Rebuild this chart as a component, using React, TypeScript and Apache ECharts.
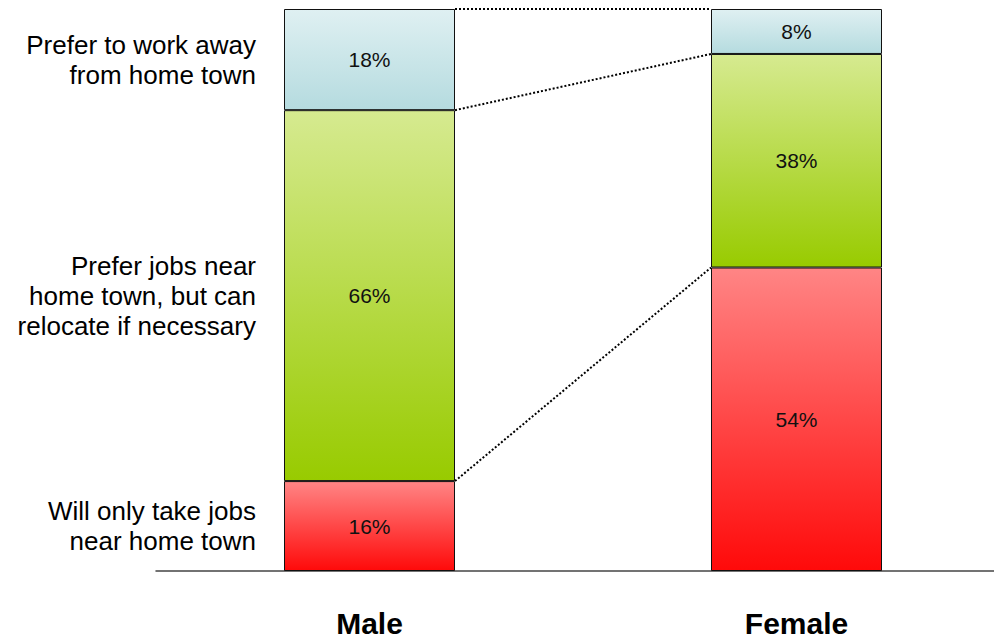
import React, { useEffect, useRef } from "react";
import * as echarts from "echarts";

const categories = ["Male", "Female"];
const segmentNames = [
  "Will only take jobs\nnear home town",
  "Prefer jobs near\nhome town, but can\nrelocate if necessary",
  "Prefer to work away\nfrom home town",
];
// bottom to top
const onlyNear = [16, 54];
const preferNear = [66, 38];
const preferAway = [18, 8];

const FONT = "'Liberation Sans', Arial, Helvetica, sans-serif";

const grad = (top: string, bottom: string) =>
  new echarts.graphic.LinearGradient(0, 0, 0, 1, [
    { offset: 0, color: top },
    { offset: 1, color: bottom },
  ]);

export default function App() {
  const ref = useRef<HTMLDivElement>(null);
  useEffect(() => {
    if (!ref.current) return;
    const chart = echarts.init(ref.current, undefined, { renderer: "svg" });
    const BAR_W = 171;
    const seriesData = [onlyNear, preferNear, preferAway];
    const styles = [
      grad("#ff8585", "#ff0a0a"),
      grad("#d6ea90", "#98cb00"),
      grad("#dff0f2", "#b5dbdf"),
    ];
    const cumMale: number[] = [];
    const cumFemale: number[] = [];
    let a = 0,
      b = 0;
    seriesData.forEach((s) => {
      a += s[0];
      b += s[1];
      cumMale.push(a);
      cumFemale.push(b);
    });
    const connectorData = cumMale.map((m, i) => [0, m, cumFemale[i]]);
    const labelCenters = seriesData.map((s, i) => [0, (i === 0 ? 0 : cumMale[i - 1]) + s[0] / 2]);

    chart.setOption({
      animation: false,
      grid: {
        left: 156,
        width: 854,
        top: 9,
        bottom: 69,
        containLabel: false,
        outerBoundsMode: "none",
      },
      xAxis: {
        type: "category",
        data: categories,
        axisTick: { show: false },
        axisLine: { lineStyle: { color: "#444", width: 1.5 } },
        axisLabel: {
          margin: 39,
          fontSize: 30,
          lineHeight: 26,
          fontWeight: "bold",
          color: "#000",
          fontFamily: FONT,
        },
      },
      yAxis: {
        type: "value",
        min: 0,
        max: 100,
        show: false,
        splitLine: { show: false },
      },
      series: [
        ...seriesData.map((s, i) => ({
          type: "bar",
          stack: "total",
          barWidth: BAR_W,
          data: s,
          itemStyle: { color: styles[i], borderColor: "#111", borderWidth: 1 },
          label: {
            show: true,
            position: "inside",
            formatter: "{c}%",
            fontSize: 21,
            color: "#111",
            fontFamily: FONT,
          },
        })),
        {
          type: "custom",
          data: connectorData,
          encode: { x: 0, y: [1, 2] },
          z: 5,
          renderItem: (params: any, api: any) => {
            const p1 = api.coord([0, api.value(1)]);
            const p2 = api.coord([1, api.value(2)]);
            return {
              type: "line",
              shape: { x1: p1[0] + BAR_W / 2, y1: p1[1], x2: p2[0] - BAR_W / 2, y2: p2[1] },
              style: { stroke: "#000", lineWidth: 2, lineDash: [2, 2] },
            };
          },
        },
        {
          type: "custom",
          data: labelCenters,
          encode: { x: 0, y: 1 },
          z: 5,
          renderItem: (params: any, api: any) => {
            const p = api.coord([0, api.value(1)]);
            return {
              type: "text",
              x: p[0] - BAR_W / 2 - 28,
              y: p[1],
              style: {
                text: segmentNames[params.dataIndex],
                fill: "#000",
                fontSize: 26,
                lineHeight: 30,
                fontFamily: FONT,
                align: "right",
                verticalAlign: "middle",
              },
            };
          },
        },
      ],
    });
    return () => chart.dispose();
  }, []);
  return (
    <div
      ref={ref}
      style={{ position: "fixed", left: 0, top: 0, width: 994, height: 640, background: "#fff" }}
    />
  );
}
